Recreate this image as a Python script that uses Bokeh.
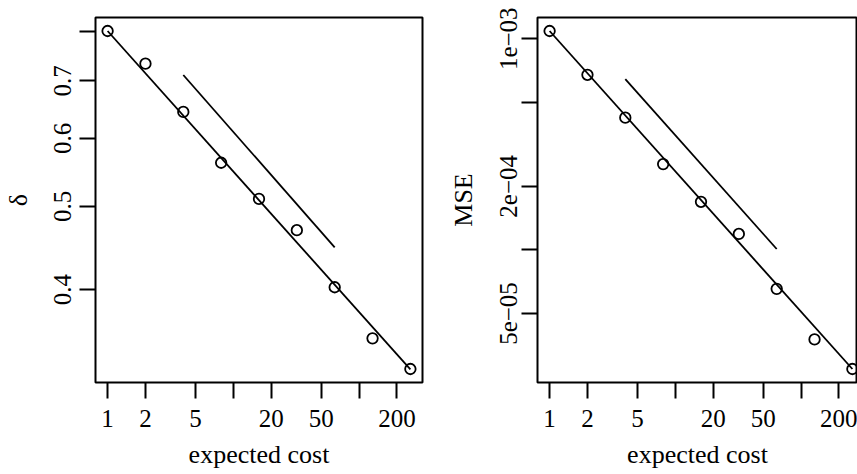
import numpy as np
from bokeh.plotting import figure
from bokeh.layouts import row
from bokeh.models import Range1d, FixedTicker
from bokeh.embed import file_html
from bokeh.resources import INLINE

# ---- data ----
cost = [1, 2, 4, 8, 16, 32, 64, 128, 256]
delta = [0.800, 0.733, 0.644, 0.562, 0.510, 0.469, 0.4025, 0.351, 0.3233]
mse = [1.088e-3, 6.75e-4, 4.23e-4, 2.55e-4, 1.69e-4, 1.19e-4, 6.54e-5, 3.77e-5, 2.73e-5]

fit_x = [1, 256]
delta_fit = [0.800, 0.323]
mse_fit = [1.088e-3, 2.73e-5]

ref_x = [4, 64]
delta_ref = [0.711, 0.448]
mse_ref = [6.44e-4, 1.01e-4]

x_ticks = [1, 2, 5, 10, 20, 50, 100, 200]
x_labels = ["1", "2", "5", "", "20", "50", "", "200"]
delta_ticks = [0.4, 0.5, 0.6, 0.7, 0.8]
delta_labels = ["0.4", "0.5", "0.6", "0.7", ""]
mse_ticks = [5e-5, 1e-4, 2e-4, 5e-4, 1e-3]
mse_labels = ["5e\u221205", "", "2e\u221204", "", "1e\u221203"]

FONT = "Liberation Serif"
TICK_FS = "25px"
LAB_FS = "26px"


def rrange(vals):
    lo, hi = np.log10(min(vals)), np.log10(max(vals))
    d = (hi - lo) * 0.04
    return lo - d, hi + d


def style_axes(p, xt, xl, yt, yl, xlabel, ylabel, y_std, y_lab_std):
    p.grid.visible = False
    p.outline_line_color = "black"
    p.outline_line_width = 2
    p.background_fill_color = "white"
    p.border_fill_color = "white"
    for ax in (p.xaxis[0], p.yaxis[0]):
        ax.axis_line_color = None
        ax.major_tick_in = 0
        ax.major_tick_out = 16
        ax.major_tick_line_width = 2
        ax.major_tick_line_color = "black"
        ax.minor_tick_line_color = None
        ax.major_label_text_font = FONT
        ax.major_label_text_font_size = TICK_FS
        ax.major_label_text_color = "black"
        ax.axis_label_text_font = FONT
        ax.axis_label_text_font_size = LAB_FS
        ax.axis_label_text_font_style = "normal"
        ax.axis_label_text_color = "black"
    p.xaxis[0].ticker = FixedTicker(ticks=xt)
    p.xaxis[0].major_label_overrides = {t: l for t, l in zip(xt, xl)}
    p.xaxis[0].axis_label = xlabel
    p.xaxis[0].major_label_standoff = 11
    p.xaxis[0].axis_label_standoff = 10
    p.yaxis[0].ticker = FixedTicker(ticks=yt)
    p.yaxis[0].major_label_overrides = {t: l for t, l in zip(yt, yl)}
    p.yaxis[0].axis_label = ylabel
    p.yaxis[0].major_label_orientation = "vertical"
    p.yaxis[0].major_label_standoff = y_std
    p.yaxis[0].axis_label_standoff = y_lab_std


xlo, xhi = rrange(cost)
dlo, dhi = rrange(delta)
mlo, mhi = rrange(mse)

p1 = figure(width=95 + 327 + 15, height=474, x_axis_type="log", y_axis_type="log",
            x_range=Range1d(10 ** xlo, 10 ** xhi), y_range=Range1d(10 ** dlo, 10 ** dhi),
            output_backend="svg", toolbar_location=None,
            min_border_left=95, min_border_right=15, min_border_top=17, min_border_bottom=92)
style_axes(p1, x_ticks, x_labels, delta_ticks, delta_labels, "expected cost", "\u03b4", 8, 19)
p1.line(fit_x, delta_fit, line_color="black", line_width=1.8)
p1.line(ref_x, delta_ref, line_color="black", line_width=1.8)
p1.scatter(cost, delta, marker="circle", size=10.5, fill_color=None,
           line_color="black", line_width=1.8)

# right panel is cropped by the page edge: keep the same scale, show a bit less range
frame_w2 = 320
x2hi = xlo + (xhi - xlo) * frame_w2 / 327.0
p2 = figure(width=100 + frame_w2, height=474, x_axis_type="log", y_axis_type="log",
            x_range=Range1d(10 ** xlo, 10 ** x2hi), y_range=Range1d(10 ** mlo, 10 ** mhi),
            output_backend="svg", toolbar_location=None,
            min_border_left=100, min_border_right=0, min_border_top=17, min_border_bottom=92)
style_axes(p2, x_ticks, x_labels, mse_ticks, mse_labels, "expected cost", "MSE", 4, 20)
p2.line(fit_x, mse_fit, line_color="black", line_width=1.8)
p2.line(ref_x, mse_ref, line_color="black", line_width=1.8)
p2.scatter(cost, mse, marker="circle", size=10.5, fill_color=None,
           line_color="black", line_width=1.8)

layout = row(p1, p2)
open("out.html", "w").write(file_html(layout, INLINE))
